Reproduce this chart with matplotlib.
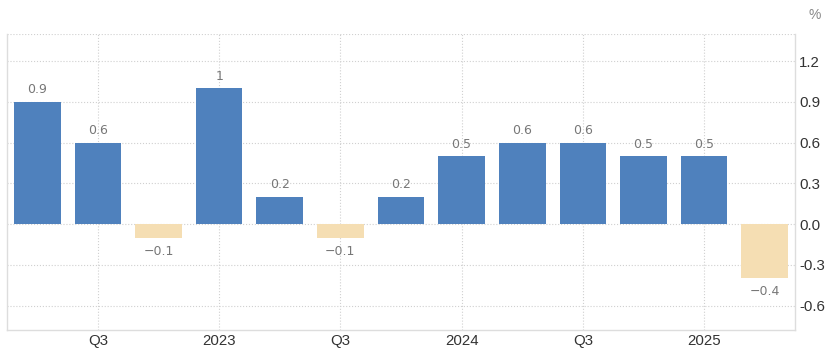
import matplotlib.pyplot as plt
import numpy as np

values = [0.9, 0.6, -0.1, 1.0, 0.2, -0.1, 0.2, 0.5, 0.6, 0.6, 0.5, 0.5, -0.4]
value_labels = ["0.9", "0.6", "\u22120.1", "1", "0.2", "\u22120.1", "0.2", "0.5", "0.6", "0.6", "0.5", "0.5", "\u22120.4"]
tick_pos = [1, 3, 5, 7, 9, 11]
tick_labels = ["Q3", "2023", "Q3", "2024", "Q3", "2025"]
y_ticks = [1.2, 0.9, 0.6, 0.3, 0.0, -0.3, -0.6]

blue = "#4f81bd"
tan = "#f5deb3"

fig = plt.figure(figsize=(8.32, 3.52), dpi=100)
ax = fig.add_axes([7 / 832, 22 / 352, 788 / 832, 296 / 352])

x = np.arange(len(values))
colors = [blue if v >= 0 else tan for v in values]
ax.bar(x, values, width=0.77, color=colors, zorder=2)

for xi, v, lab in zip(x, values, value_labels):
    if v >= 0:
        ax.annotate(lab, (xi, v), xytext=(0, 4), textcoords="offset points",
                    ha="center", va="bottom", fontsize=9, color="#777777",
                    family="DejaVu Sans")
    else:
        ax.annotate(lab, (xi, v), xytext=(0, -5), textcoords="offset points",
                    ha="center", va="top", fontsize=9, color="#777777",
                    family="DejaVu Sans")

ax.set_xlim(-0.5, 12.5)
ax.set_ylim(-0.78, 1.40)

ax.set_xticks(tick_pos)
ax.set_xticklabels(tick_labels, fontsize=10.8, color="#333333", family="Liberation Sans")
ax.yaxis.tick_right()
ax.set_yticks(y_ticks)
ax.set_yticklabels([f"{t:.1f}" for t in y_ticks], fontsize=10.8, color="#333333",
                   family="Liberation Sans")
ax.tick_params(axis="both", length=0)
ax.tick_params(axis="x", pad=3)
ax.tick_params(axis="y", pad=3)

ax.grid(True, linestyle=":", color="#d0d0d0", linewidth=0.8, zorder=0)
ax.axhline(1.40, linestyle=":", color="#d0d0d0", linewidth=0.8)

for side in ["left", "right", "bottom"]:
    ax.spines[side].set_color("#dddddd")
    ax.spines[side].set_linewidth(1)
ax.spines["top"].set_visible(False)

fig.text(815 / 832, 1 - 15 / 352, "%", fontsize=10, color="#888888",
         ha="center", va="center", family="Liberation Sans")

fig.savefig("out.png", dpi=100)
